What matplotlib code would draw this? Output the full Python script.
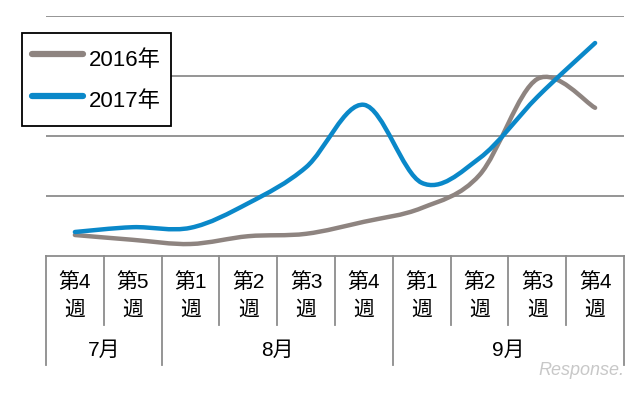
import numpy as np
import matplotlib
matplotlib.use("Agg")
import matplotlib.pyplot as plt
from matplotlib.path import Path
from matplotlib.patches import PathPatch
from matplotlib.lines import Line2D

plt.rcParams['font.family'] = ['Liberation Sans', 'Noto Sans CJK JP', 'DejaVu Sans']

weeks = ['第4\n週', '第5\n週', '第1\n週', '第2\n週', '第3\n週', '第4\n週',
         '第1\n週', '第2\n週', '第3\n週', '第4\n週']
months = ['7月', '8月', '9月']
month_sizes = [2, 4, 4]

s2016 = [0.35, 0.27, 0.20, 0.33, 0.37, 0.57, 0.80, 1.35, 2.95, 2.47]
s2017 = [0.40, 0.48, 0.47, 0.88, 1.48, 2.52, 1.22, 1.63, 2.65, 3.55]

c2016 = '#8e8480'
c2017 = '#0a88c9'


def smooth_path(x, y):
    # excel-like smoothed line: cubic bezier with catmull-rom control points
    p = np.column_stack([x, y]).astype(float)
    n = len(p)
    verts = [p[0]]
    codes = [Path.MOVETO]
    for i in range(n - 1):
        p0 = p[i - 1] if i > 0 else p[i]
        p1 = p[i]
        p2 = p[i + 1]
        p3 = p[i + 2] if i + 2 < n else p[i + 1]
        verts += [p1 + (p2 - p0) / 6, p2 - (p3 - p1) / 6, p2]
        codes += [Path.CURVE4] * 3
    return Path(verts, codes)


fig = plt.figure(figsize=(6.4, 3.93), dpi=100)
ax = fig.add_axes([46 / 640, 1 - 256 / 393, 578 / 640, 240 / 393])
ax.set_xlim(-0.5, len(weeks) - 0.5)
ax.set_ylim(0, 4)
for s in ax.spines.values():
    s.set_visible(False)
ax.set_xticks([])
ax.set_yticks([])

for g in [1, 2, 3, 4]:
    ax.axhline(g, color='#8c8c8c', lw=1.3, zorder=1)

x = np.arange(len(weeks))
for ys, c in [(s2016, c2016), (s2017, c2017)]:
    ax.add_patch(PathPatch(smooth_path(x, ys), fill=False, edgecolor=c,
                           lw=3.2, capstyle='round', joinstyle='round', zorder=3))

# category table below the plot
lc = '#8c8c8c'
ax.plot([-0.5, len(weeks) - 0.5], [0, 0], color=lc, lw=1.3, clip_on=False)
edges = np.cumsum([0] + month_sizes) - 0.5
for i in range(len(weeks) + 1):
    xe = i - 0.5
    bottom = -1.82 if xe in edges else -1.15
    ax.plot([xe, xe], [0, bottom], color=lc, lw=1.3, clip_on=False)

for i, w in enumerate(weeks):
    top, bot = w.split('\n')
    ax.text(i, -0.43, top, ha='center', va='center', fontsize=15, clip_on=False)
    ax.text(i, -0.90, bot, ha='center', va='center', fontsize=15, clip_on=False)

for m, a, b in zip(months, edges[:-1], edges[1:]):
    ax.text((a + b) / 2, -1.57, m, ha='center', va='center', fontsize=15, clip_on=False)

handles = [Line2D([], [], color=c2016, lw=4.5, solid_capstyle='round'),
           Line2D([], [], color=c2017, lw=4.5, solid_capstyle='round')]
leg = fig.legend(handles, ['2016年', '2017年'], loc='upper left',
                 bbox_to_anchor=(22 / 640, 1 - 33 / 393), fontsize=16,
                 fancybox=False, framealpha=1, edgecolor='black',
                 handlelength=2.3, handletextpad=0.25, handleheight=1.8,
                 labelspacing=0.45, borderpad=0.45, borderaxespad=0)
leg.get_frame().set_linewidth(1.3)

fig.text(0.975, 0.035, 'Response.', ha='right', va='bottom', fontsize=13,
         color='#c8c8c8', style='italic')

fig.savefig('out.png', dpi=100)
